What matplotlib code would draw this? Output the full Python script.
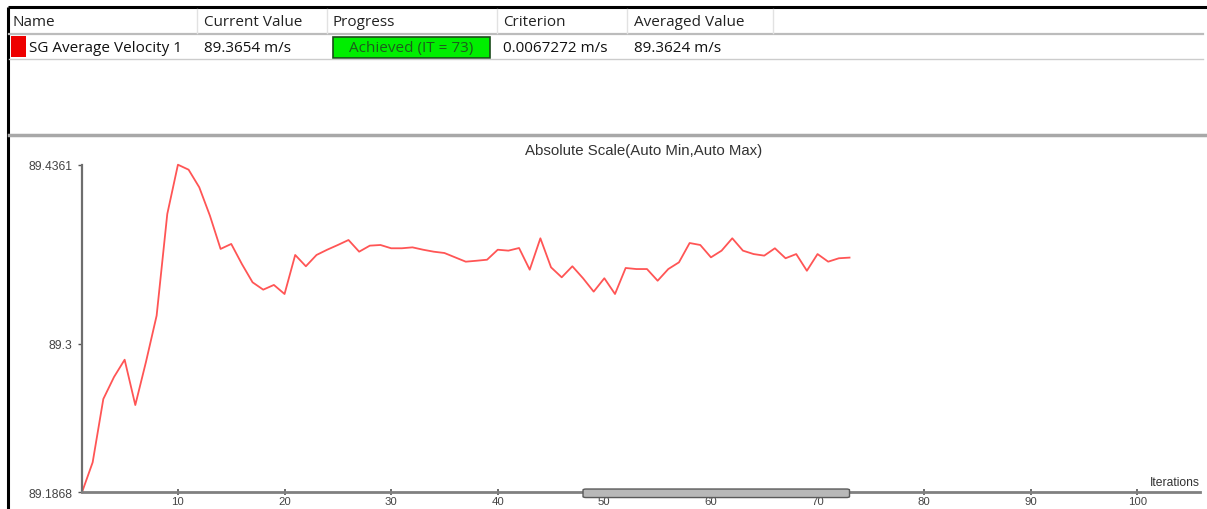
import numpy as np
import matplotlib
matplotlib.use("Agg")
import matplotlib.pyplot as plt
from matplotlib.patches import Rectangle, FancyBboxPatch
import matplotlib.transforms as mtransforms

# monitor history: SG Average Velocity 1 [m/s] per iteration
velocity = [
    89.1868, 89.2096, 89.2578, 89.2745, 89.2877, 89.2532, 89.2860, 89.3212,
    89.3986, 89.4361, 89.4323, 89.4189, 89.3973, 89.3720, 89.3758, 89.3605,
    89.3466, 89.3410, 89.3446, 89.3377, 89.3674, 89.3588, 89.3674, 89.3714,
    89.3750, 89.3788, 89.3699, 89.3745, 89.3750, 89.3725, 89.3725, 89.3732,
    89.3714, 89.3699, 89.3689, 89.3656, 89.3623, 89.3630, 89.3638, 89.3714,
    89.3707, 89.3727, 89.3562, 89.3801, 89.3580, 89.3504, 89.3588, 89.3497,
    89.3395, 89.3497, 89.3377, 89.3575, 89.3567, 89.3567, 89.3478, 89.3567,
    89.3618, 89.3765, 89.3750, 89.3656, 89.3707, 89.3801, 89.3707, 89.3681,
    89.3669, 89.3725, 89.3649, 89.3681, 89.3554, 89.3681, 89.3623, 89.3649,
    89.3654,
]
iterations = np.arange(1, len(velocity) + 1)

columns = ["Name", "Current Value", "Progress", "Criterion", "Averaged Value"]
row = ["SG Average Velocity 1", "89.3654 m/s", "Achieved (IT = 73)",
       "0.0067272 m/s", "89.3624 m/s"]
x_ticks = [10, 20, 30, 40, 50, 60, 70, 80, 90, 100]
y_mid_tick = 89.3
window_start = 48

W, H = 1207, 510
fig = plt.figure(figsize=(W / 100, H / 100), dpi=100)
fig.patch.set_facecolor("white")

# pixel-space overlay for the table panel and frame
ui = fig.add_axes([0, 0, 1, 1], zorder=0)
ui.set_xlim(0, W)
ui.set_ylim(H, 0)
ui.axis("off")

ui_font = ["Open Sans", "DejaVu Sans"]
ui_size = 11
col_x = [12, 204, 333, 503, 634]
sep_x = [197, 327, 497, 627, 773]

# frame lines
ui.plot([8, W], [8, 8], color="black", lw=2.2, solid_capstyle="butt")
ui.plot([8, 8], [8, H], color="black", lw=2.2, solid_capstyle="butt")
ui.plot([9, 1203], [35, 35], color="#bcbcbc", lw=1.6)
ui.plot([9, 1203], [60, 60], color="#cccccc", lw=1.0)
ui.plot([9, W], [135.5, 135.5], color="#a8a8a8", lw=2.5)
for sx in sep_x:
    ui.plot([sx, sx], [10, 34], color="#e2e2e2", lw=1.0)

for cx, name in zip(col_x, columns):
    ui.text(cx, 22, name, fontsize=ui_size, family=ui_font, color="#222222",
            va="center", ha="left")

# table row
ui.add_patch(Rectangle((11, 37), 15, 21, facecolor="#ee0000", edgecolor="none"))
ui.text(29, 48, row[0], fontsize=ui_size, family=ui_font, color="#111111", va="center")
ui.text(col_x[1], 48, row[1], fontsize=ui_size, family=ui_font, color="#111111", va="center")
ui.add_patch(Rectangle((333, 38), 157, 21, facecolor="#00ee00",
                       edgecolor="#1a4a1a", lw=1.2))
ui.text(411.5, 48.5, row[2], fontsize=ui_size, family=ui_font, color="#1d5c1d",
        va="center", ha="center")
ui.text(col_x[3], 48, row[3], fontsize=ui_size, family=ui_font, color="#111111", va="center")
ui.text(col_x[4], 48, row[4], fontsize=ui_size, family=ui_font, color="#111111", va="center")

ui.text(644, 151, "Absolute Scale(Auto Min,Auto Max)", fontsize=10.8,
        family="Liberation Sans", color="#333333", ha="center", va="center")

# monitor plot
ymin, ymax = min(velocity), max(velocity)
left_px, right_px, top_px, bot_px = 82, 1200, 165.7, 493.3
ax = fig.add_axes([left_px / W, (H - bot_px) / H,
                   (right_px - left_px) / W, (bot_px - top_px) / H], zorder=1)
ax.patch.set_alpha(0)
px_per_it = 10.66
ax.set_xlim(1, 1 + (right_px - left_px) / px_per_it)
ax.set_ylim(ymin, ymax)

ax.plot(iterations, velocity, color="#ff5555", lw=1.3, clip_on=False)

for s in ["top", "right"]:
    ax.spines[s].set_visible(False)
ax.spines["left"].set_color("#6e6e6e")
ax.spines["left"].set_linewidth(1.6)
ax.spines["bottom"].set_color("#808080")
ax.spines["bottom"].set_linewidth(2.0)

ax.set_yticks([ymin, y_mid_tick, ymax])
ax.set_yticklabels([f"{ymin:.4f}", f"{y_mid_tick:g}", f"{ymax:.4f}"])
ax.set_xticks(x_ticks)
ax.set_xticklabels([str(t) for t in x_ticks])
ax.tick_params(axis="y", length=3, width=1, color="#555555", pad=4,
               labelsize=8.7, labelcolor="#444444")
ax.tick_params(axis="x", direction="inout", length=5, width=1.2,
               color="#555555", pad=0.5, labelsize=8.2, labelcolor="#444444")
for lbl in ax.get_xticklabels() + ax.get_yticklabels():
    lbl.set_family("Liberation Sans")

ax.text(1.0, 0.012, "Iterations", transform=ax.transAxes, ha="right",
        va="bottom", fontsize=8.7, family="Liberation Sans", color="#333333")

# scroll thumb across the axis
trans = mtransforms.blended_transform_factory(ax.transData, ax.transAxes)
ax.add_patch(FancyBboxPatch((window_start, -0.016),
                            len(velocity) - window_start, 0.026,
                            boxstyle="round,pad=0,rounding_size=0.3",
                            transform=trans, facecolor="#b8b8b8",
                            edgecolor="#5a5a5a", lw=1.0, clip_on=False,
                            zorder=3, mutation_aspect=0.01))

fig.savefig("out.png", dpi=100, facecolor="white")
